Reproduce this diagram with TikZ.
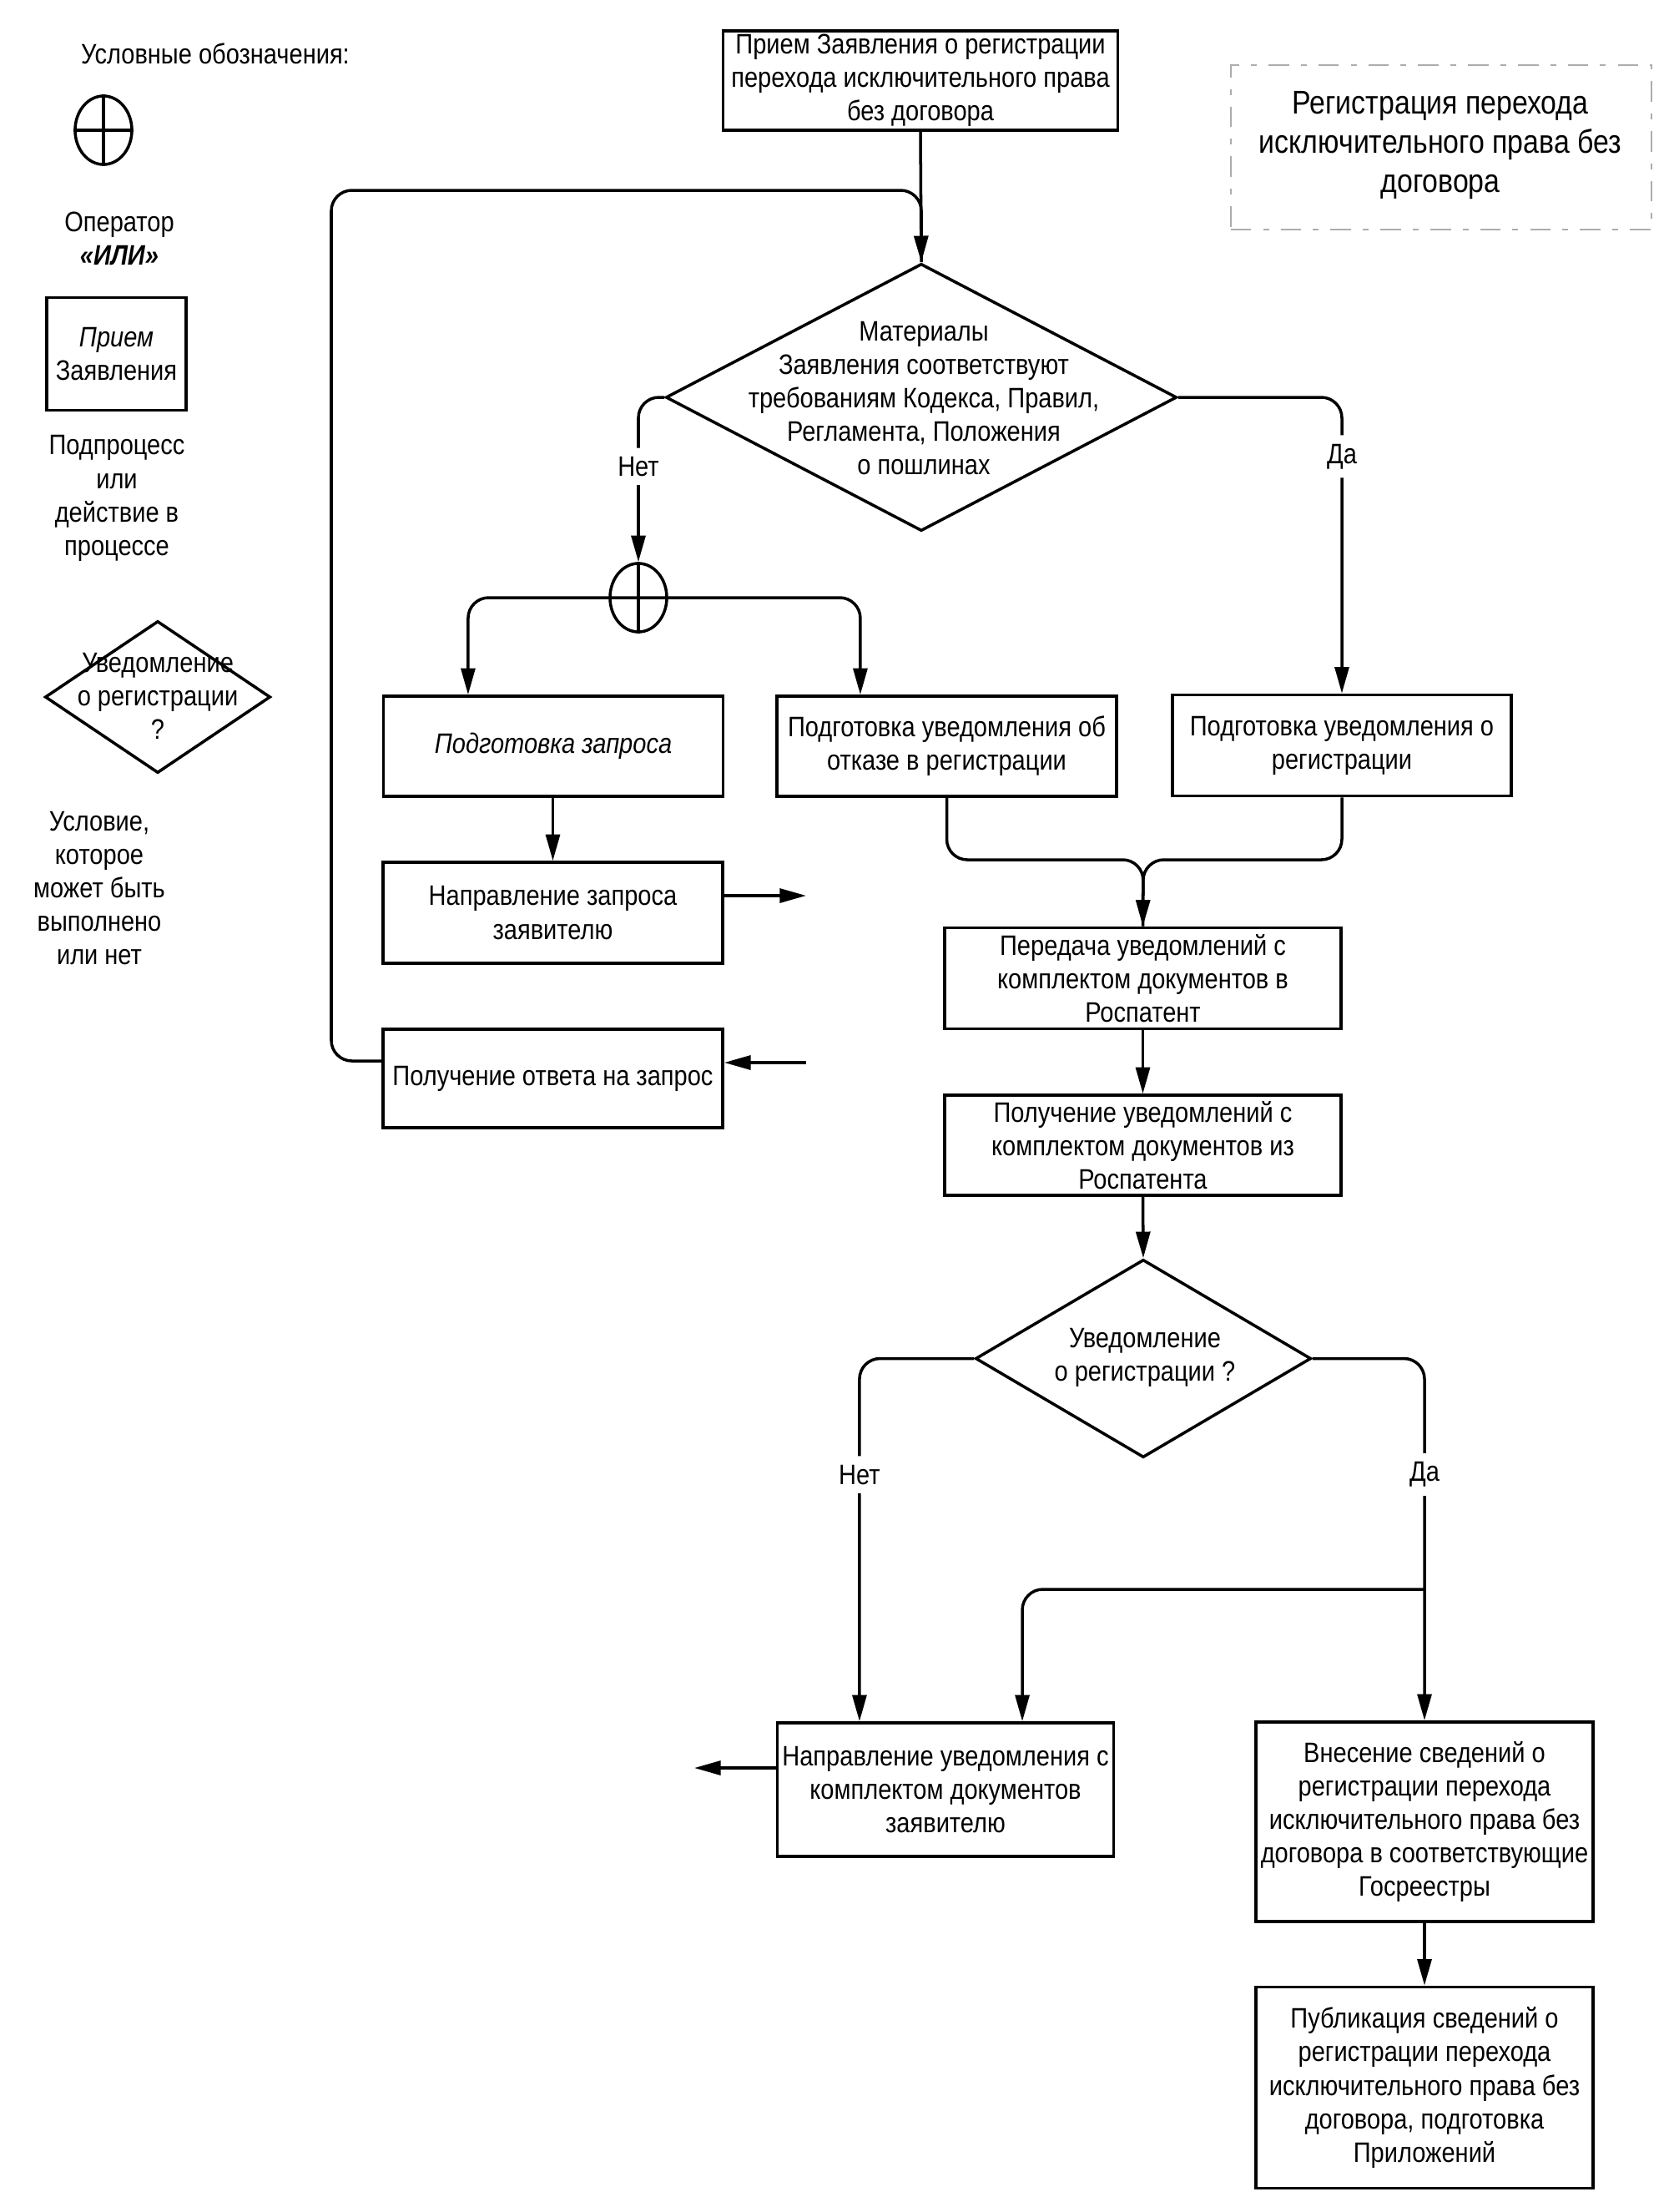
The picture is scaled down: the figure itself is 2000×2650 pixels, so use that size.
\documentclass[tikz,border=0pt]{standalone}
\usepackage{fontspec}
\setmainfont{Liberation Sans}[FakeStretch=0.86]
\usetikzlibrary{arrows.meta,shapes.geometric,calc}
\tikzset{
  line/.style={line width=1pt,draw=black},
  arr/.style={line,-{Triangle[length=9pt,width=4.8pt]}},
  rc/.style={rounded corners=7pt},
  box/.style={draw=black,line width=1pt,rectangle,inner sep=0pt,align=center,font=\fs},
  txt/.style={inner sep=0pt,align=center,font=\fs},
  lbl/.style={fill=white,inner xsep=1pt,inner ysep=3pt,font=\fs},
  dia/.style={draw=black,line width=1pt,diamond,inner sep=0pt},
  orop/.style={draw=black,line width=1pt,ellipse,inner sep=0pt,minimum width=0.68cm,minimum height=0.82cm},
}
\newcommand{\fs}{\fontsize{9.6}{11.4}\selectfont}
\begin{document}
\begin{tikzpicture}[x=0.01cm,y=-0.01cm]
\useasboundingbox (0,0) rectangle (2000,2650);

% ---------- legend ----------
\node[txt] (legT) at (258,64) {Условные обозначения:};
\node[orop] (legO) at (124,156) {};
\draw[line] (legO.north) -- (legO.south);
\draw[line] (legO.west) -- (legO.east);
\node[txt] (legOt) at (143,286) {Оператор\\{\bfseries\itshape «ИЛИ»}};
\node[box,minimum width=1.67cm,minimum height=1.35cm] (legB) at (139.5,424) {\itshape Прием\\Заявления};
\node[txt] (legBt) at (140,597) {Подпроцесс\\или\\действие в\\процессе};
\node[dia,minimum width=2.70cm,minimum height=1.82cm] (legD) at (189,835) {};
\node[txt] (legDt) at (189,834) {Уведомление\\о регистрации\\?};
\node[txt] (legDx) at (119,1064) {Условие,\\которое\\может быть\\выполнено\\или нет};

% ---------- title ----------
\node[draw=gray!65,line width=0.7pt,dash pattern=on 7pt off 4pt on 2pt off 4pt,minimum width=5.04cm,minimum height=1.97cm,inner sep=0pt] (title) at (1727,176.5) {};
\node[txt,font=\fontsize{11.2}{13.4}\selectfont] (titleT) at (1726,174) {Регистрация перехода\\исключительного права без\\договора};

% ---------- main flow ----------
\node[box,minimum width=4.73cm,minimum height=1.19cm] (t) at (1103,96.5) {Прием Заявления о регистрации\\перехода исключительного права\\без договора};

\node[dia,minimum width=6.12cm,minimum height=3.20cm] (d1) at (1104,476) {};
\node[txt] (d1t) at (1107,477) {Материалы\\Заявления соответствуют\\требованиям Кодекса, Правил,\\Регламента, Положения\\о пошлинах};

\node[orop] (or1) at (765,716) {};

\node[box,minimum width=4.07cm,minimum height=1.20cm] (zap) at (663,894) {\itshape Подготовка запроса};
\node[box,minimum width=4.07cm,minimum height=1.20cm] (otk) at (1134.5,894) {Подготовка уведомления об\\отказе в регистрации};
\node[box,minimum width=4.06cm,minimum height=1.21cm] (reg) at (1608,893) {Подготовка уведомления о\\регистрации};

\node[box,minimum width=4.07cm,minimum height=1.21cm] (napr) at (662.5,1093.5) {Направление запроса\\заявителю};
\node[box,minimum width=4.07cm,minimum height=1.18cm] (ans) at (662.5,1292) {Получение ответа на запрос};

\node[box,minimum width=4.75cm,minimum height=1.21cm] (per) at (1369.5,1172) {Передача уведомлений с\\комплектом документов в\\Роспатент};
\node[box,minimum width=4.75cm,minimum height=1.20cm] (rec) at (1369.5,1372) {Получение уведомлений с\\комплектом документов из\\Роспатента};

\node[dia,minimum width=4.02cm,minimum height=2.37cm] (d2) at (1370,1627.5) {};
\node[txt] (d2t) at (1372,1626) {Уведомление\\о регистрации ?};

\node[box,minimum width=4.03cm,minimum height=1.60cm] (nap) at (1133,2144) {Направление уведомления с\\комплектом документов\\заявителю};
\node[box,minimum width=4.04cm,minimum height=2.39cm] (vn) at (1707,2182.5) {Внесение сведений о\\регистрации перехода\\исключительного права без\\договора в соответствующие\\Госреестры};
\node[box,minimum width=4.04cm,minimum height=2.41cm] (pub) at (1707,2501) {Публикация сведений о\\регистрации перехода\\исключительного права без\\договора, подготовка\\Приложений};

% ---------- connectors ----------
\coordinate (out1) at (966,1073);
\coordinate (in1) at (966,1273);
\coordinate (m1) at (1370,1030);
\coordinate (j2) at (1707,1904);
\coordinate (out2) at (832,2118);
\coordinate (lp1) at (397,228);

\draw[arr] (t.south) -- (d1.north);
\draw[line,rc] ($(ans.west)+(0,-21)$) -| (lp1) -| (d1.north);

\draw[arr,rc] (d1.west) -| node[lbl,pos=0.71] {Нет} (or1.north);
\draw[arr,rc] (d1.east) -| node[lbl,pos=0.6] {Да} (reg.north);

\draw[line] (or1.north) -- (or1.south);
\draw[arr,rc] (or1.center) -| ([xshift=-1.02cm]zap.north);
\draw[arr,rc] (or1.center) -| ([xshift=-1.035cm]otk.north);

\draw[arr] (zap.south -| napr.north) -- (napr.north);
\draw[arr] (napr.east |- out1) -- (out1);
\draw[arr] (in1) -- (ans.east |- in1);

\draw[line,rc] (otk.south) |- (m1) -- (per.north);
\draw[arr,rc] (reg.south) |- (m1) -- (per.north);

\draw[arr] (per) -- (rec);
\draw[arr] (rec.south) -- (d2.north);

\draw[arr,rc] (d2.west) -| node[lbl,pos=0.66] {Нет} ([xshift=-1.03cm]nap.north);
\draw[arr,rc] (d2.east) -| node[lbl,pos=0.66] {Да} (vn.north);
\draw[arr,rc] (j2) -| ([xshift=0.92cm]nap.north);
\draw[arr] (nap.west |- out2) -- (out2);
\draw[arr] (vn) -- (pub);
\end{tikzpicture}
\end{document}
